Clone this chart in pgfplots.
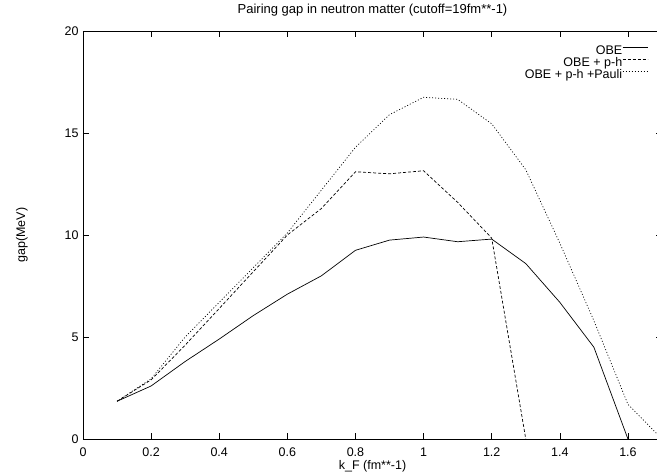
\documentclass[border=0pt]{standalone}
\usepackage{fontspec}
\setmainfont{Liberation Sans}
\usepackage{pgfplots}
\pgfplotsset{compat=1.18}

\begin{document}
\begin{tikzpicture}
\begin{axis}[
    name=main,
    scale only axis,
    width=579pt, height=408pt,
    xmin=0, xmax=1.7,
    ymin=0, ymax=20,
    xtick={0,0.2,...,1.6},
    ytick={0,5,10,15,20},
    tick align=inside,
    major tick length=6pt,
    minor tick num=0,
    axis line style={line width=0.8pt},
    tick style={line width=0.6pt, black},
    font=\fontsize{12.5}{14}\selectfont,
    /pgf/number format/assume math mode=true,
    xticklabel style={yshift=-5pt},
    yticklabel style={xshift=-1pt},
    title={Pairing gap in neutron matter (cutoff=19fm**-1)},
    title style={at={(0.5,1)}, anchor=south, inner sep=0pt, yshift=9pt,
        font=\fontsize{13}{15}\selectfont},
    xlabel={k\_F (fm**-1)},
    xlabel style={at={(axis description cs:0.5,0)}, anchor=north, inner sep=0pt, yshift=-21pt},
    legend style={at={(rel axis cs:0.976,0.966)}, anchor=north east, draw=none, fill=none,
        font=\fontsize{12.5}{14}\selectfont, row sep=0pt, column sep=0pt, inner sep=0pt,
        nodes={inner sep=0pt, text height=9pt, text depth=3.3pt}},
    legend cell align=right,
    legend plot pos=right,
    legend image code/.code={\draw[#1] (7pt,4.3pt) -- (32pt,4.3pt);},
]
\addplot[black, line width=0.7pt] coordinates {
    (0.1,1.85) (0.2,2.6) (0.3,3.8) (0.4,4.9) (0.5,6.05) (0.6,7.1)
    (0.7,8.0) (0.8,9.25) (0.9,9.75) (1.0,9.9) (1.1,9.67) (1.2,9.8)
    (1.3,8.6) (1.4,6.7) (1.5,4.5) (1.6,0)
};
\addlegendentry{OBE}
\addplot[black, line width=0.7pt, dash pattern=on 3pt off 2pt] coordinates {
    (0.1,1.85) (0.2,2.9) (0.3,4.6) (0.4,6.4) (0.5,8.2) (0.6,10.0)
    (0.7,11.3) (0.8,13.1) (0.9,13.0) (1.0,13.15) (1.1,11.6) (1.2,9.85)
    (1.3,0)
};
\addlegendentry{OBE + p-h}
\addplot[black, line width=0.7pt, dash pattern=on 1pt off 2pt] coordinates {
    (0.1,1.85) (0.2,2.95) (0.3,5.0) (0.4,6.7) (0.5,8.4) (0.6,10.1)
    (0.7,12.2) (0.8,14.3) (0.9,15.9) (1.0,16.75) (1.1,16.65) (1.2,15.45)
    (1.3,13.2) (1.4,9.6) (1.5,5.8) (1.6,1.7) (1.7,0)
};
\addlegendentry{OBE + p-h +Pauli}
\end{axis}
% y axis label, set upright along the axis as in the original
\node[rotate=90, anchor=south, inner sep=0pt, font=\fontsize{12.5}{14}\selectfont]
    at ([xshift=-55pt]main.west) {gap(MeV)};
\pgfresetboundingbox
\useasboundingbox ([xshift=-83pt,yshift=-33pt]main.south west)
    rectangle ([xshift=-5pt,yshift=31pt]main.north east);
\end{tikzpicture}
\end{document}
